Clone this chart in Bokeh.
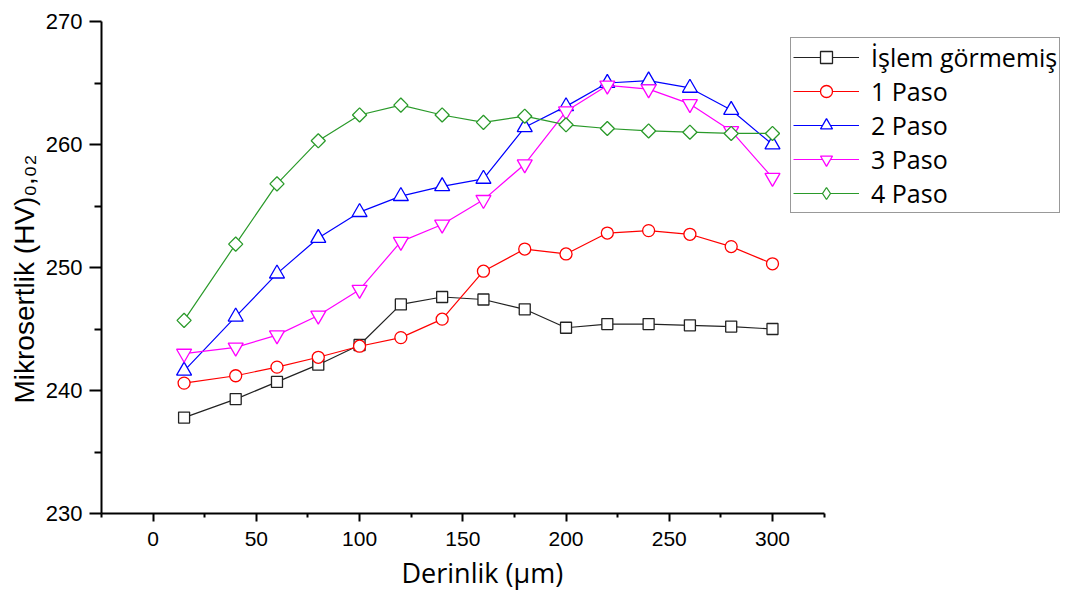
import math
from bokeh.plotting import figure
from bokeh.models import Range1d, FixedTicker, Legend, LegendItem, Title
from bokeh.embed import file_html
from bokeh.resources import INLINE

# ---------------- data ----------------
depth = [15, 40, 60, 80, 100, 120, 140, 160, 180, 200, 220, 240, 260, 280, 300]
untreated = [237.8, 239.3, 240.7, 242.1, 243.7, 247.0, 247.6, 247.4, 246.6, 245.1, 245.4, 245.4, 245.3, 245.2, 245.0]
pass1 = [240.6, 241.2, 241.9, 242.7, 243.6, 244.3, 245.8, 249.7, 251.5, 251.1, 252.8, 253.0, 252.7, 251.7, 250.3]
pass2 = [241.6, 246.0, 249.5, 252.4, 254.5, 255.8, 256.6, 257.2, 261.4, 263.1, 265.0, 265.2, 264.6, 262.8, 260.0]
pass3 = [243.0, 243.5, 244.5, 246.1, 248.2, 252.1, 253.5, 255.5, 258.4, 262.7, 264.8, 264.5, 263.3, 261.1, 257.3]
pass4 = [245.7, 251.9, 256.8, 260.3, 262.4, 263.2, 262.4, 261.8, 262.3, 261.6, 261.3, 261.1, 261.0, 260.9, 260.9]

series_names = ["İşlem görmemiş", "1 Paso", "2 Paso", "3 Paso", "4 Paso"]
x_ticks = [0, 50, 100, 150, 200, 250, 300]
x_minor = [-25, 25, 75, 125, 175, 225, 275, 325]
y_ticks = [230, 240, 250, 260, 270]
y_minor = [235, 245, 255, 265]

x_title = "Derinlik (μm)"
y_title = "Mikrosertlik (HV)₀,₀₂"

# ---------------- figure ----------------
p = figure(frame_width=959, frame_height=492,
           min_border_left=101, min_border_top=21, min_border_bottom=85, min_border_right=0,
           x_range=Range1d(-25, 439.5), y_range=Range1d(230, 270),
           output_backend="svg", toolbar_location=None)
p.outline_line_color = None
p.grid.visible = False
p.background_fill_color = "white"
p.border_fill_color = "white"

for ax in (p.xaxis[0], p.yaxis[0]):
    ax.axis_line_width = 2
    ax.axis_line_color = "black"
    ax.major_tick_line_width = 2
    ax.minor_tick_line_width = 2
    ax.major_tick_line_color = "black"
    ax.minor_tick_line_color = "black"
    ax.major_tick_in = 0
    ax.minor_tick_in = 0
    ax.major_label_text_font = "Liberation Sans"
    ax.major_label_text_color = "black"
    ax.axis_label = None

p.xaxis.bounds = (-25, 325)
p.xaxis.ticker = FixedTicker(ticks=x_ticks, minor_ticks=x_minor)
p.xaxis.major_tick_out = 8
p.xaxis.minor_tick_out = 4
p.xaxis.major_label_text_font_size = "21px"
p.xaxis.major_label_standoff = 10

p.yaxis.ticker = FixedTicker(ticks=y_ticks, minor_ticks=y_minor)
p.yaxis.major_tick_out = 12
p.yaxis.minor_tick_out = 7
p.yaxis.major_label_text_font_size = "22px"
p.yaxis.major_label_standoff = 7

styles = [
    dict(color="#222222", marker="square", size=11, angle=0.0, legend_marker="square"),
    dict(color="#ff0000", marker="circle", size=12, angle=0.0, legend_marker="circle"),
    dict(color="#0000ff", marker="triangle", size=15, angle=0.0, legend_marker="triangle"),
    dict(color="#ff00ff", marker="inverted_triangle", size=15, angle=0.0, legend_marker="inverted_triangle"),
    dict(color="#2a9a2a", marker="square", size=10, angle=math.pi / 4, legend_marker="diamond"),
]
all_series = [untreated, pass1, pass2, pass3, pass4]

items = []
for name, ys, st in zip(series_names, all_series, styles):
    lr = p.line(depth, ys, line_color=st["color"], line_width=1.2)
    sr = p.scatter(depth, ys, marker=st["marker"], size=st["size"], angle=st["angle"],
                   line_color=st["color"], line_width=1.3, fill_color="white")
    if st["legend_marker"] != st["marker"]:
        # hidden proxy of the same series, used only for the legend symbol (diamond)
        sr = p.scatter(depth, ys, marker=st["legend_marker"], size=st["size"],
                       line_color=st["color"], line_width=1.3, fill_color="white",
                       visible=False)
    items.append(LegendItem(label=name, renderers=[lr, sr]))

legend = Legend(items=items, location=(689, 300),
                label_text_font="Open Sans", label_text_font_size="25px",
                label_text_color="black",
                glyph_width=66, glyph_height=30, label_height=30,
                label_standoff=12, spacing=0, padding=2, margin=0,
                border_line_color="#333333", border_line_width=1.5,
                background_fill_color="white", background_fill_alpha=1.0,
                click_policy="none")
p.add_layout(legend)

# axis titles
xt = Title(text=x_title, align="left", offset=300, standoff=6,
           text_font="Open Sans", text_font_size="27px", text_font_style="normal",
           text_color="black")
p.add_layout(xt, "below")
yt = Title(text=y_title, align="left", offset=110, standoff=6,
           text_font="Liberation Sans", text_font_size="28px", text_font_style="normal",
           text_color="black")
p.add_layout(yt, "left")

open("out.html", "w").write(file_html(p, INLINE))
